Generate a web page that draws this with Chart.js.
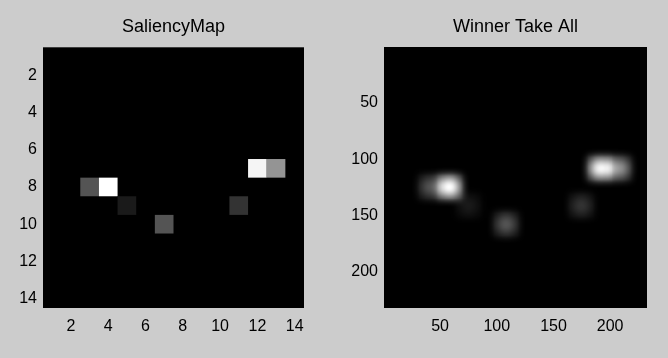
<!DOCTYPE html>
<html>
<head>
<meta charset="utf-8">
<script src="https://cdn.jsdelivr.net/npm/chart.js@4.4.1/dist/chart.umd.min.js"></script>
<style>
  body { margin: 0; background: #cccccc; width: 668px; height: 358px; overflow: hidden; position: relative; }
  canvas { position: absolute; top: 0; }
  #salMap { left: 0; }
  #wta { left: 334px; }
</style>
</head>
<body>
<canvas id="salMap" width="334" height="358"></canvas>
<canvas id="wta" width="334" height="358"></canvas>
<script>
// saliency map: 14x14 grid, non-zero cells only
const gridSize = 14;
const cellCols = [3, 4, 5, 7, 11, 12, 13];
const cellRows = [8, 8, 9, 10, 9, 7, 7];
const cellVals = [0.33, 1.0, 0.1, 0.33, 0.2, 0.96, 0.58];
const salTicks = [2, 4, 6, 8, 10, 12, 14];

// winner take all: each saliency cell spread with a boxed gaussian
const wtaSize = 232;
const wtaTicks = [50, 100, 150, 200];
const blobSigma = 8;
const blobHalf = 14;
const blobEdge = 8;

const FONT = 'Arial, "Liberation Sans", sans-serif';

const salPlugin = {
    id: 'salCells',
    beforeDatasetsDraw(chart) {
        const { ctx, chartArea: a, scales: { x, y } } = chart;
        ctx.save();
        ctx.fillStyle = '#000';
        ctx.fillRect(a.left, a.top, a.width, a.height);
        cellVals.forEach((v, i) => {
            const x0 = x.getPixelForValue(cellCols[i] - 0.5);
            const x1 = x.getPixelForValue(cellCols[i] + 0.5);
            const y0 = y.getPixelForValue(cellRows[i] - 0.5);
            const y1 = y.getPixelForValue(cellRows[i] + 0.5);
            const g = Math.round(v * 255);
            ctx.fillStyle = `rgb(${g},${g},${g})`;
            ctx.fillRect(x0, y0, x1 - x0, y1 - y0);
        });
        ctx.restore();
    }
};

const toWta = c => (c - 0.5) * wtaSize / gridSize + 0.5;

function kernel1d(d) {
    const a = Math.abs(d);
    const win = Math.min(1, Math.max(0, (blobHalf - a) / blobEdge + 0.5));
    return Math.exp(-d * d / (2 * blobSigma * blobSigma)) * win;
}

function buildWtaImage() {
    const n = wtaSize;
    const img = new Float32Array(n * n);
    let mx = 0;
    for (let j = 0; j < n; j++) {
        for (let i = 0; i < n; i++) {
            let s = 0;
            cellVals.forEach((v, k) => {
                const dx = i + 1 - toWta(cellCols[k]);
                const dy = j + 1 - toWta(cellRows[k]);
                if (Math.abs(dx) > blobHalf + blobEdge || Math.abs(dy) > blobHalf + blobEdge) return;
                s += v * kernel1d(dx) * kernel1d(dy);
            });
            img[j * n + i] = s;
            if (s > mx) mx = s;
        }
    }
    const off = document.createElement('canvas');
    off.width = n; off.height = n;
    const octx = off.getContext('2d');
    const data = octx.createImageData(n, n);
    for (let p = 0; p < n * n; p++) {
        const g = Math.round(img[p] / mx * 255);
        data.data[p * 4] = g; data.data[p * 4 + 1] = g; data.data[p * 4 + 2] = g; data.data[p * 4 + 3] = 255;
    }
    octx.putImageData(data, 0, 0);
    return off;
}

const wtaImage = buildWtaImage();

const wtaPlugin = {
    id: 'wtaImage',
    beforeDatasetsDraw(chart) {
        const { ctx, scales: { x, y } } = chart;
        const x0 = x.getPixelForValue(0.5), x1 = x.getPixelForValue(wtaSize + 0.5);
        const y0 = y.getPixelForValue(0.5), y1 = y.getPixelForValue(wtaSize + 0.5);
        ctx.save();
        ctx.imageSmoothingEnabled = true;
        ctx.drawImage(wtaImage, x0, y0, x1 - x0, y1 - y0);
        ctx.restore();
    }
};

function makeOptions(title, max, ticks, yWidth, rightPad) {
    const tickFont = { family: FONT, size: 16 };
    return {
        responsive: false,
        animation: false,
        events: [],
        layout: { padding: { left: 0, right: rightPad, top: 0, bottom: 0 } },
        plugins: {
            legend: { display: false },
            tooltip: { enabled: false },
            title: {
                display: true,
                text: title,
                fullSize: false,
                color: '#000',
                font: { family: FONT, size: 18, weight: 'normal' },
                padding: { top: 16.7, bottom: 9 }
            }
        },
        scales: {
            x: {
                type: 'linear',
                min: 0.5,
                max: max,
                grid: { display: false, drawTicks: false },
                border: { display: false },
                afterBuildTicks: s => { s.ticks = ticks.map(v => ({ value: v })); },
                afterFit: s => { s.height = 50; },
                ticks: { color: '#000', font: tickFont, padding: 9, maxRotation: 0 }
            },
            y: {
                type: 'linear',
                reverse: true,
                min: 0.5,
                max: max,
                grid: { display: false, drawTicks: false },
                border: { display: false },
                afterBuildTicks: s => { s.ticks = ticks.map(v => ({ value: v })); },
                afterFit: s => { s.width = yWidth; },
                ticks: { color: '#000', font: tickFont, padding: 6 }
            }
        }
    };
}

new Chart(document.getElementById('salMap'), {
    type: 'scatter',
    data: {
        datasets: [{
            data: cellCols.map((c, i) => ({ x: c, y: cellRows[i] })),
            pointRadius: 0
        }]
    },
    options: makeOptions('SaliencyMap', gridSize + 0.5, salTicks, 43, 30),
    plugins: [salPlugin]
});

new Chart(document.getElementById('wta'), {
    type: 'scatter',
    data: {
        datasets: [{
            data: cellCols.map((c, i) => ({ x: toWta(c), y: toWta(cellRows[i]) })),
            pointRadius: 0
        }]
    },
    options: makeOptions('Winner Take All', wtaSize + 0.5, wtaTicks, 50, 21),
    plugins: [wtaPlugin]
});
</script>
</body>
</html>
